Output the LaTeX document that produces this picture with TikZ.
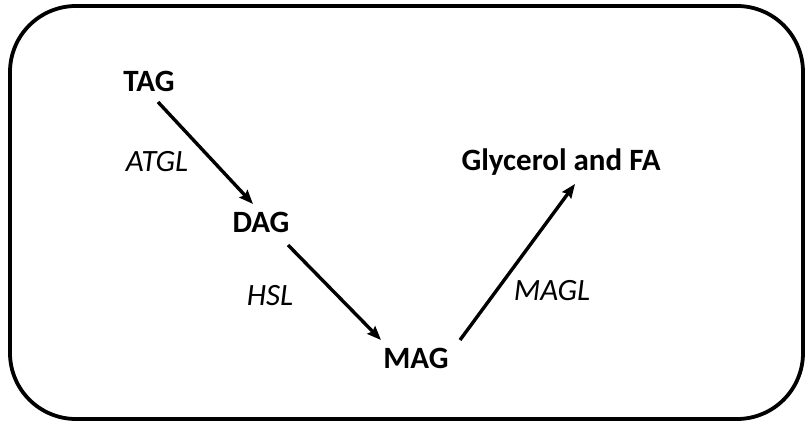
\documentclass[tikz,border=0pt]{standalone}
\usepackage{fontspec}
\setmainfont{Carlito}
\usetikzlibrary{arrows.meta}
\begin{document}
\begin{tikzpicture}[x=1pt,y=-1pt,
  mol/.style={font=\fontsize{31}{36}\selectfont\bfseries, inner sep=0pt},
  enz/.style={font=\fontsize{31}{36}\selectfont\itshape, inner sep=0pt},
  conv/.style={line width=3.4pt, -{Stealth[length=14pt,width=11pt,inset=2pt]}}]
\useasboundingbox (0,0) rectangle (805,422);
\draw[line width=3.8pt, rounded corners=66pt] (10,6) rectangle (803,419);
\node[mol] (tag) at (149,81) {TAG};
\node[mol] (dag) at (261,222) {DAG};
\node[mol] (mag) at (416,358) {MAG};
\node[mol] (gly) at (561,162) {Glycerol and FA};
\node[enz] (atgl) at (157,162) {ATGL};
\node[enz] (hsl) at (270,296) {HSL};
\node[enz] (magl) at (552,291) {MAGL};
\coordinate (a1) at (158,102);
\coordinate (a2) at (253,204);
\coordinate (b1) at (288,245);
\coordinate (b2) at (381,340);
\coordinate (c1) at (460,340);
\coordinate (c2) at (575,184);
\draw[conv] (a1) -- (a2);
\draw[conv] (b1) -- (b2);
\draw[conv] (c1) -- (c2);
\end{tikzpicture}
\end{document}
